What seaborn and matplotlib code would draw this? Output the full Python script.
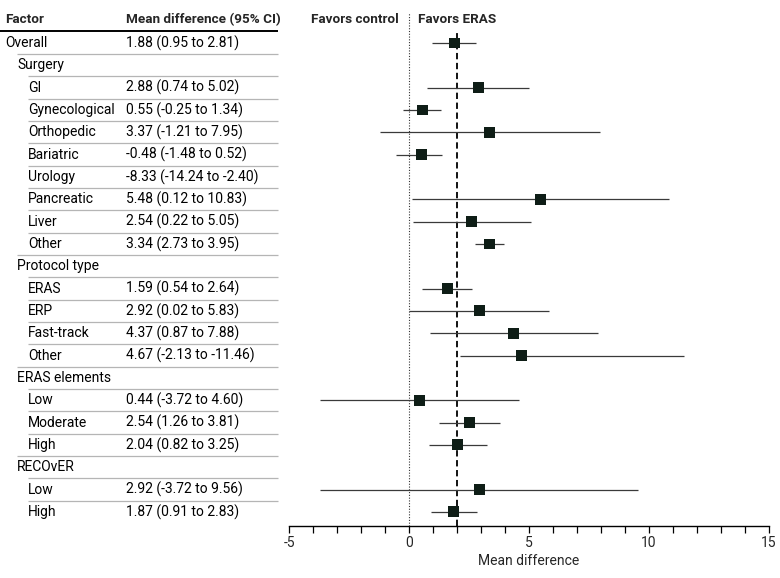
import numpy as np
import pandas as pd
import matplotlib
matplotlib.use("Agg")
from matplotlib import pyplot as plt
import seaborn as sns

# table rows, top to bottom
factors = ['Overall', 'Surgery', 'GI', 'Gynecological', 'Orthopedic', 'Bariatric',
           'Urology', 'Pancreatic', 'Liver', 'Other', 'Protocol type', 'ERAS', 'ERP',
           'Fast-track', 'Other', 'ERAS elements', 'Low', 'Moderate', 'High',
           'RECOvER', 'Low', 'High']
levels = [0, 1, 2, 2, 2, 2, 2, 2, 2, 2, 1, 2, 2, 2, 2, 1, 2, 2, 2, 1, 2, 2]
ci_text = ['1.88 (0.95 to 2.81)', '', '2.88 (0.74 to 5.02)', '0.55 (-0.25 to 1.34)',
           '3.37 (-1.21 to 7.95)', '-0.48 (-1.48 to 0.52)',
           '-8.33 (-14.24 to -2.40)', '5.48 (0.12 to 10.83)',
           '2.54 (0.22 to 5.05)', '3.34 (2.73 to 3.95)', '', '1.59 (0.54 to 2.64)',
           '2.92 (0.02 to 5.83)', '4.37 (0.87 to 7.88)', '4.67 (-2.13 to -11.46)',
           '', '0.44 (-3.72 to 4.60)', '2.54 (1.26 to 3.81)', '2.04 (0.82 to 3.25)',
           '', '2.92 (-3.72 to 9.56)', '1.87 (0.91 to 2.83)']

# plotted estimates as drawn in the figure (NaN = no mark)
est = [1.88, np.nan, 2.88, 0.55, 3.37, 0.54, np.nan, 5.48, 2.62, 3.34, np.nan, 1.59,
       2.92, 4.37, 4.67, np.nan, 0.44, 2.54, 2.04, np.nan, 2.92, 1.87]
lo = [0.95, np.nan, 0.74, -0.25, -1.21, -0.55, np.nan, 0.12, 0.17, 2.73, np.nan, 0.54,
      0.02, 0.87, 2.13, np.nan, -3.72, 1.26, 0.82, np.nan, -3.72, 0.91]
hi = [2.81, np.nan, 5.02, 1.34, 7.95, 1.38, np.nan, 10.83, 5.07, 3.95, np.nan, 2.64,
      5.83, 7.88, 11.46, np.nan, 4.60, 3.81, 3.25, np.nan, 9.56, 2.83]
pooled = 2.0

df = pd.DataFrame({'factor': factors, 'level': levels, 'ci': ci_text,
                   'est': est, 'lo': lo, 'hi': hi})
df['row'] = np.arange(len(df))

sns.set_theme(style='white')
plt.rcParams['font.family'] = ['Roboto', 'DejaVu Sans']
plt.rcParams['font.size'] = 10
plt.rcParams['axes.unicode_minus'] = False

W, H = 780, 578
fig = plt.figure(figsize=(W / 100, H / 100), dpi=100)
top_px, bot_px = 13, 526
row0, step = 43, 22.33
ylim = ((bot_px - row0) / step, (top_px - row0) / step)
ax_b = (H - bot_px) / H
ax_h = (bot_px - top_px) / H
bold = dict(fontweight='bold', fontsize=9.7)

# left table
tab = fig.add_axes([0, ax_b, 280 / W, ax_h])
tab.set_xlim(0, 280)
tab.set_ylim(*ylim)
tab.axis('off')
indent = {0: 5, 1: 17, 2: 28}
tab.text(5, -1.05, 'Factor', va='center', ha='left', **bold)
tab.text(126, -1.05, 'Mean difference (95% CI)', va='center', ha='left', **bold)
tab.plot([0, 278], [-0.54, -0.54], color='black', lw=1.4, solid_capstyle='butt')
for r in df.itertuples():
    tab.text(indent[r.level], r.row, r.factor, va='center', ha='left', color='black')
    if r.ci:
        tab.text(126, r.row, r.ci, va='center', ha='left', color='black')
    if r.row > 0:
        tab.plot([indent[r.level], 278], [r.row - 0.5, r.row - 0.5],
                 color='#b5b5b5', lw=0.9, solid_capstyle='butt')

# forest plot
ax = fig.add_axes([289 / W, ax_b, 480 / W, ax_h])
ax.set_xlim(-5, 15)
ax.set_ylim(*ylim)
ax.axvline(0, color='#333333', lw=0.8, ls=(0, (1, 1.5)))
ax.axvline(pooled, ymin=0, ymax=(bot_px - 31) / (bot_px - top_px),
           color='black', lw=1.3, ls=(0, (3.5, 2)))
pts = df.dropna(subset=['est'])
ax.hlines(pts['row'], pts['lo'], pts['hi'], color='#3a3a3a', lw=0.9)
sns.scatterplot(data=pts, x='est', y='row', marker='s', s=62, color='#0e1d16',
                edgecolor='none', ax=ax, zorder=3, legend=False)
ax.text(-0.43, -1.05, 'Favors control', ha='right', va='center', **bold)
ax.text(0.36, -1.05, 'Favors ERAS', ha='left', va='center', **bold)

for s in ['left', 'right', 'top']:
    ax.spines[s].set_visible(False)
ax.spines['bottom'].set_color('black')
ax.spines['bottom'].set_linewidth(1.0)
ax.set_yticks([])
ax.set_xticks([-5, 0, 5, 10, 15])
ax.set_xticks(np.arange(-5, 16, 1), minor=True)
ax.tick_params(axis='x', which='both', direction='out', bottom=True, length=5,
               width=0.9, color='black', labelsize=10, pad=2)
ax.set_xlabel('Mean difference', fontsize=10, labelpad=3)
ax.set_ylabel('')

fig.savefig('out.png', dpi=100)
